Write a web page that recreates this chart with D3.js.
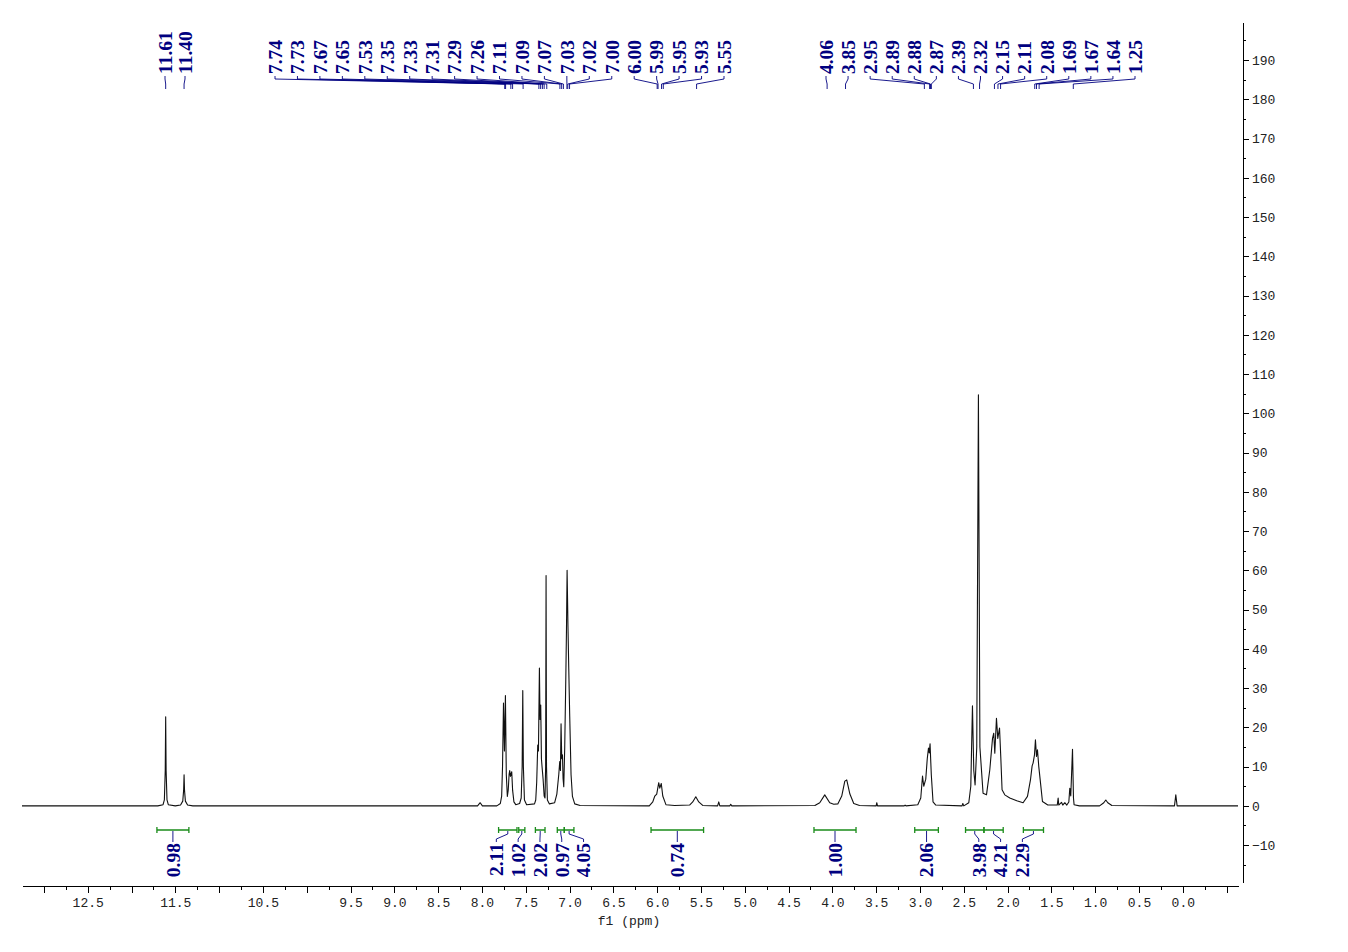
<!DOCTYPE html>
<html lang="en">
<head>
<meta charset="UTF-8">
<title>1H NMR spectrum</title>
<script src="https://cdn.jsdelivr.net/npm/d3@7"></script>
<style>
  body { margin: 0; background: #fff; }
  svg { display: block; background: #fff; }
  .spectrum { fill: none; stroke: #111; stroke-width: 1.1; stroke-linejoin: round; }
  .axis path, .axis line { stroke: #000; shape-rendering: crispEdges; }
  .axis text { font-family: "Liberation Mono", monospace; font-size: 13px; fill: #222; }
  .xtitle { font-family: "Liberation Mono", monospace; font-size: 13px; fill: #222; }
  .plabel, .ilabel { font-family: "Liberation Serif", serif; font-weight: bold; font-size: 19.5px; fill: #000080; }
  .leader { fill: none; stroke: #000080; stroke-width: 0.9; }
  .integral { fill: none; stroke: #1a8c1a; stroke-width: 1.3; }
</style>
</head>
<body>
<div id="chart"></div>
<script>
// spectrum: [ppm, intensity]
var spectrum = [
  [13.25, 0],
  [11.70, 0], [11.64, 0.3], [11.625, 1.5], [11.615, 9], [11.61, 22.7], [11.605, 9], [11.595, 1.5], [11.58, 0.3], [11.50, 0],
  [11.44, 0.2], [11.415, 1.2], [11.405, 4], [11.40, 7.9], [11.395, 4], [11.385, 1.2], [11.36, 0.2], [11.30, 0],
  [8.05, 0], [8.02, 0.8], [7.995, 0],
  [7.83, 0], [7.79, 0.6], [7.775, 2.5], [7.765, 10], [7.754, 26.2], [7.743, 14], [7.732, 28.1], [7.722, 8], [7.71, 2.4],
  [7.70, 4], [7.69, 8], [7.683, 9.0], [7.675, 7.5], [7.66, 8.7], [7.65, 4], [7.635, 1], [7.614, 0.3],
  [7.57, 0.6], [7.552, 2], [7.541, 10], [7.534, 29.4], [7.527, 10], [7.515, 1.5], [7.49, 0.3],
  [7.40, 0.5], [7.386, 1.5], [7.375, 6], [7.363, 15.5], [7.355, 14], [7.344, 35.1], [7.337, 22], [7.329, 25.7],
  [7.321, 12], [7.314, 10], [7.302, 6.8], [7.29, 2.5], [7.28, 2], [7.273, 10], [7.268, 58.7], [7.263, 10],
  [7.253, 1.5], [7.23, 0.5],
  [7.17, 0.8], [7.145, 3], [7.123, 8], [7.112, 11.3], [7.104, 9], [7.097, 20.9], [7.089, 12], [7.081, 13],
  [7.074, 7], [7.066, 4.9], [7.055, 15], [7.043, 32.1], [7.035, 45], [7.028, 60], [7.021, 50], [7.018, 45.7],
  [7.009, 35], [6.998, 22.8], [6.983, 8], [6.967, 2.4], [6.941, 0.5], [6.88, 0.1],
  [6.09, 0], [6.05, 1], [6.027, 2.5], [6.005, 3], [5.982, 5.9], [5.97, 4.5], [5.953, 5.7], [5.936, 2.5], [5.90, 0.3], [5.80, 0.1],
  [5.63, 0.2], [5.594, 1], [5.559, 2.3], [5.525, 1], [5.48, 0.1],
  [5.31, 0], [5.297, 1.0], [5.285, 0], [5.17, 0], [5.16, 0.4], [5.15, 0],
  [4.20, 0.1], [4.144, 0.8], [4.087, 2.8], [4.03, 0.8], [3.984, 0.4],
  [3.938, 0.5], [3.893, 2.5], [3.858, 6.3], [3.836, 6.6], [3.80, 3], [3.756, 0.6], [3.69, 0.1],
  [3.50, 0], [3.493, 0.8], [3.485, 0],
  [3.18, 0], [3.17, 0.2], [3.16, 0],
  [3.025, 0.3], [2.991, 2.0], [2.971, 7.6], [2.957, 5], [2.934, 6.8], [2.917, 12], [2.903, 14.7], [2.894, 13.5],
  [2.885, 15.8], [2.871, 8], [2.851, 1], [2.82, 0.2],
  [2.52, 0], [2.511, 0.6], [2.50, 0],
  [2.443, 0.8], [2.42, 5], [2.401, 25.5], [2.386, 9], [2.371, 5.3], [2.352, 15], [2.333, 104.7], [2.316, 15],
  [2.28, 3.2], [2.241, 2.8], [2.203, 9.2], [2.172, 17.2], [2.158, 18.5], [2.146, 13.4], [2.127, 22.3],
  [2.112, 17.2], [2.092, 19.8], [2.078, 12.6], [2.063, 4.1], [2.032, 2.8], [1.975, 2.0], [1.895, 1.3],
  [1.823, 0.8], [1.773, 2.4], [1.739, 6.6], [1.72, 10.2], [1.709, 10.9], [1.693, 13], [1.682, 16.8],
  [1.67, 12.6], [1.659, 14.3], [1.644, 10], [1.624, 5.8], [1.602, 1.1], [1.541, 0.2],
  [1.433, 0.2], [1.423, 2], [1.416, 0.2], [1.385, 0.9], [1.37, 0.2], [1.347, 0.8], [1.324, 0.2],
  [1.301, 1], [1.29, 4.5], [1.279, 2.5], [1.259, 14.4], [1.248, 2], [1.241, 0.3], [1.18, 0],
  [0.95, 0], [0.902, 0.8], [0.879, 1.5], [0.856, 0.8], [0.81, 0.1],
  [0.095, 0], [0.08, 2.8], [0.065, 0],
  [-0.63, 0]
];

// picked peaks (ppm)
var peakLabels = [11.61, 11.40,
  7.74, 7.73, 7.67, 7.65, 7.53, 7.35, 7.33, 7.31, 7.29, 7.26, 7.11, 7.09, 7.07, 7.03, 7.02, 7.00,
  6.00, 5.99, 5.95, 5.93, 5.55,
  4.06, 3.85, 2.95, 2.89, 2.88, 2.87, 2.39, 2.32, 2.15, 2.11, 2.08, 1.69, 1.67, 1.64, 1.25];

// integral regions [from, to] ppm and their values
var integralRanges = [[11.71, 11.345], [7.81, 7.60], [7.58, 7.51], [7.39, 7.28], [7.14, 7.06], [7.06, 6.95],
  [6.07, 5.47], [4.21, 3.73], [3.06, 2.79], [2.48, 2.27], [2.27, 2.05], [1.82, 1.59]];
var integralValues = ['0.98', '2.11', '1.02', '2.02', '0.97', '4.05', '0.74', '1.00', '2.06', '3.98', '4.21', '2.29'];

// x tick labels that are shown
var xTickLabels = ['12.5', '11.5', '10.5', '9.5', '9.0', '8.5', '8.0', '7.5', '7.0', '6.5', '6.0', '5.5',
  '5.0', '4.5', '4.0', '3.5', '3.0', '2.5', '2.0', '1.5', '1.0', '0.5', '0.0'];

var width = 1348, height = 952;

var svg = d3.select('#chart').append('svg')
  .attr('width', width)
  .attr('height', height);

var x = d3.scaleLinear().domain([13.25, -0.63]).range([22, 1238]);
var y = d3.scaleLinear().domain([-19.4, 199.7]).range([882, 22]);

// x axis
var xTicks = d3.range(0, 55).map(function (i) { return 13 - i * 0.25; });
var xAxis = d3.axisBottom(x)
  .tickValues(xTicks)
  .tickSize(7)
  .tickPadding(5)
  .tickSizeOuter(0)
  .tickFormat(function (d) {
    var s = d.toFixed(1);
    return xTickLabels.indexOf(s) >= 0 ? s : '';
  });

var gx = svg.append('g')
  .attr('class', 'axis')
  .attr('transform', 'translate(0,886)')
  .call(xAxis);
gx.selectAll('.tick line')
  .attr('y2', function (d) { return Math.abs(d * 2 - Math.round(d * 2)) < 1e-6 ? 7 : 4; });

svg.append('text')
  .attr('class', 'xtitle')
  .attr('x', 629)
  .attr('y', 925)
  .attr('text-anchor', 'middle')
  .text('f1 (ppm)');

// y axis
var yTicks = d3.range(-15, 200, 5);
var yAxis = d3.axisRight(y)
  .tickValues(yTicks)
  .tickSize(6)
  .tickPadding(3)
  .tickSizeOuter(0)
  .tickFormat(function (d) { return d % 10 === 0 ? d3.format('')(d).replace('-', '\u2212') : ''; });

var gy = svg.append('g')
  .attr('class', 'axis')
  .attr('transform', 'translate(1243,0)')
  .call(yAxis);
gy.selectAll('.tick line')
  .attr('x2', function (d) { return d % 10 === 0 ? 6 : 3; });

// spectrum
var line = d3.line()
  .x(function (d) { return x(d[0]); })
  .y(function (d) { return y(d[1]); });

svg.append('path')
  .datum(spectrum)
  .attr('class', 'spectrum')
  .attr('d', line);

// peak labels, laid out in evenly spaced groups
var peakGroups = [
  {first: 0, last: 1, x0: 165, x1: 185},
  {first: 2, last: 22, x0: 275, x1: 724},
  {first: 23, last: 37, x0: 826, x1: 1135}
];

var peakSlots = [];
peakGroups.forEach(function (g) {
  var n = g.last - g.first;
  for (var i = 0; i <= n; i++) {
    peakSlots[g.first + i] = g.x0 + (n === 0 ? 0 : (g.x1 - g.x0) * i / n);
  }
});

var pg = svg.append('g');
pg.selectAll('path')
  .data(peakLabels)
  .enter().append('path')
  .attr('class', 'leader')
  .attr('d', function (d, i) {
    var sx = peakSlots[i], px = x(d);
    return 'M' + sx + ',76L' + sx + ',79L' + px + ',84L' + px + ',89';
  });

pg.selectAll('text')
  .data(peakLabels)
  .enter().append('text')
  .attr('class', 'plabel')
  .attr('transform', function (d, i) { return 'translate(' + peakSlots[i] + ',74) rotate(-90)'; })
  .attr('dy', '0.35em')
  .attr('text-anchor', 'start')
  .text(function (d) { return d.toFixed(2); });

// integrals
var integralGroups = [[0], [1, 2, 3, 4, 5], [6], [7], [8], [9, 10, 11]];
var intStep = 21.8;
var intSlots = [];
integralGroups.forEach(function (g) {
  var centers = g.map(function (i) { return (x(integralRanges[i][0]) + x(integralRanges[i][1])) / 2; });
  var mean = d3.mean(centers);
  g.forEach(function (idx, k) {
    intSlots[idx] = mean + (k - (g.length - 1) / 2) * intStep;
  });
});

var ig = svg.append('g');
var iy = 830;

ig.selectAll('path.integral')
  .data(integralRanges)
  .enter().append('path')
  .attr('class', 'integral')
  .attr('d', function (d) {
    var a = x(d[0]), b = x(d[1]);
    return 'M' + a + ',' + (iy - 3) + 'L' + a + ',' + (iy + 3) +
      'M' + a + ',' + iy + 'L' + b + ',' + iy +
      'M' + b + ',' + (iy - 3) + 'L' + b + ',' + (iy + 3);
  });

ig.selectAll('path.leader')
  .data(integralRanges)
  .enter().append('path')
  .attr('class', 'leader')
  .attr('d', function (d, i) {
    var cx = (x(d[0]) + x(d[1])) / 2, lx = intSlots[i];
    return 'M' + cx + ',' + (iy + 1) + 'L' + cx + ',' + (iy + 4) + 'L' + lx + ',' + (iy + 9) + 'L' + lx + ',' + (iy + 12);
  });

ig.selectAll('text')
  .data(integralValues)
  .enter().append('text')
  .attr('class', 'ilabel')
  .attr('transform', function (d, i) { return 'translate(' + intSlots[i] + ',' + (iy + 13) + ') rotate(-90)'; })
  .attr('dy', '0.35em')
  .attr('text-anchor', 'end')
  .text(function (d) { return d; });
</script>
</body>
</html>
